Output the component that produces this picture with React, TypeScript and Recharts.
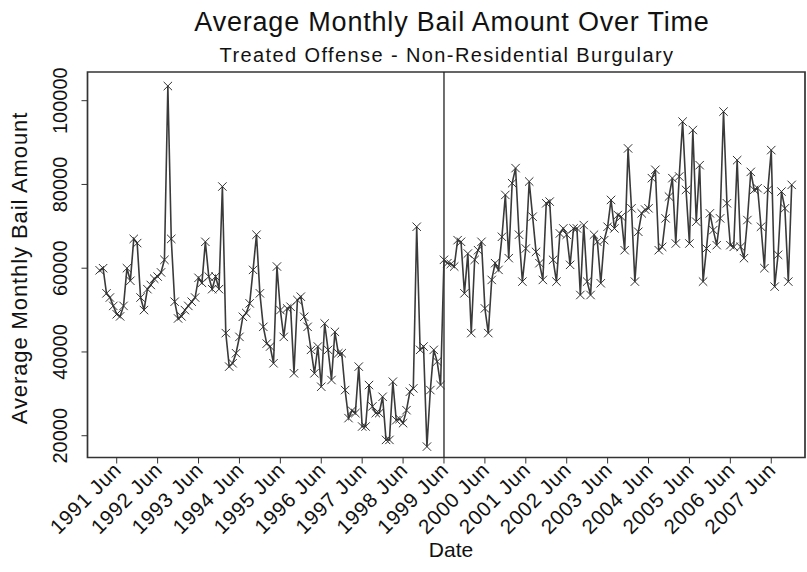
import React from "react";
import { LineChart, Line, XAxis, YAxis, ReferenceLine, ReferenceArea } from "recharts";

document.body.style.margin = "0";

const FONT = "'Liberation Sans', Arial, sans-serif";

// monthly average bail, Jan..Dec of each year (thousands)
const bail1991 = [59.5, 60, 54, 53, 51, 49, 48.5, 51, 60, 57, 67, 66];
const bail1992 = [53, 50, 55, 56, 57.5, 58, 59, 62, 103.5, 67, 52, 48];
const bail1993 = [48.5, 50, 51, 52, 53, 57.7, 56.5, 66.3, 58, 55, 58, 55];
const bail1994 = [79.5, 44.5, 36.5, 37.3, 39.7, 43.6, 48.4, 49.3, 51.6, 59.6, 68, 54];
const bail1995 = [46, 42, 41.3, 37.3, 60.4, 50, 43.6, 50.4, 50.8, 34.9, 52.4, 53.2];
const bail1996 = [48.4, 46, 40.5, 34.9, 41.3, 31.7, 46.8, 40.5, 33.3, 44.8, 39.7, 39.7];
const bail1997 = [30.9, 24.2, 26, 25.4, 36.5, 22.2, 22.2, 32.1, 27, 25.4, 25.4, 29.3];
const bail1998 = [19, 19, 32.9, 23.7, 24, 23, 26.1, 30.5, 31.3, 69.9, 40.5, 41.3];
const bail1999 = [17.4, 30.9, 40.5, 37.7, 32.1, 62, 61.2, 61, 60.4, 66.7, 66.3, 54];
const bail2000 = [63.5, 44.5, 62, 64.3, 66.3, 50.4, 44.5, 57.2, 61.2, 59.6, 67.5, 77.5];
const bail2001 = [62.4, 80.3, 83.9, 68, 56.8, 64.7, 80.7, 72.3, 63.9, 61.2, 57.2, 75.5];
const bail2002 = [75.9, 62, 56.8, 68.3, 69.5, 68, 60.8, 69.5, 69.5, 53.6, 70.3, 56.8];
const bail2003 = [53.6, 68, 66.3, 56.4, 66.7, 69.9, 76.3, 69.5, 72.7, 72.3, 64.3, 88.6];
const bail2004 = [74.3, 56.8, 68.7, 73.1, 74, 74.3, 81.5, 83.5, 64.3, 65.1, 71.9, 77.1];
const bail2005 = [81.5, 65.9, 81.9, 95, 78.7, 65.9, 93, 71.1, 84.6, 56.8, 64.7, 73.1];
const bail2006 = [69.1, 65.5, 71.9, 97.4, 75.5, 65.5, 65.1, 85.8, 65.1, 62.4, 71.5, 83];
const bail2007 = [78.7, 79.1, 69.9, 60, 78.7, 88.2, 55.6, 63.2, 78.3, 74.3, 56.8, 79.9];

const startYear = 1991;
const tickYears = [1991, 1992, 1993, 1994, 1995, 1996, 1997, 1998, 1999, 2000, 2001, 2002, 2003, 2004, 2005, 2006, 2007];
const yTicks = [20000, 40000, 60000, 80000, 100000];
const interventionYear = 1999; // June 1999

const monthly = [
  bail1991, bail1992, bail1993, bail1994, bail1995, bail1996, bail1997, bail1998, bail1999,
  bail2000, bail2001, bail2002, bail2003, bail2004, bail2005, bail2006, bail2007,
].flat();

const data = monthly.map((v, i) => ({ m: i, bail: v * 1000 }));
const juneIndex = (year: number) => (year - startYear) * 12 + 5;
const xTicks = tickYears.map(juneIndex);

function XMark(props: any) {
  const { cx, cy } = props;
  if (cx == null || cy == null) return null;
  const s = 4.2;
  return (
    <g stroke="#333" strokeWidth={1}>
      <line x1={cx - s} y1={cy - s} x2={cx + s} y2={cy + s} />
      <line x1={cx - s} y1={cy + s} x2={cx + s} y2={cy - s} />
    </g>
  );
}

function DateTick(props: any) {
  const { x, payload } = props;
  const year = startYear + Math.round((payload.value - 5) / 12);
  const tx = x + 6;
  const ty = 471;
  return (
    <text x={tx} y={ty} transform={`rotate(-45, ${tx}, ${ty})`} textAnchor="end"
      fontSize={20.5} letterSpacing={0.8} fontFamily={FONT} fill="#111">
      {`${year} Jun`}
    </text>
  );
}

function BailTick(props: any) {
  const { y, payload } = props;
  const tx = 67;
  return (
    <text x={tx} y={y} transform={`rotate(-90, ${tx}, ${y})`} textAnchor="middle"
      fontSize={20} fontFamily={FONT} fill="#111">
      {payload.value}
    </text>
  );
}

const X_DOMAIN: [number, number] = [-3.57, 206.9];
const Y_DOMAIN: [number, number] = [14800, 106850];

export default function App() {
  return (
    <div style={{ position: "relative", width: 807, height: 572, background: "#fff" }}>
      <LineChart width={807} height={572} data={data} margin={{ top: 72, right: 2, bottom: 0, left: 0 }}>
        <XAxis type="number" dataKey="m" domain={X_DOMAIN} ticks={xTicks} interval={0}
          allowDataOverflow axisLine={false} tickLine={{ stroke: "#333" }} tickSize={6}
          height={114.5} tick={<DateTick />} />
        <YAxis type="number" domain={Y_DOMAIN} ticks={yTicks} interval={0}
          allowDataOverflow axisLine={false} tickLine={{ stroke: "#333" }} tickSize={6}
          width={87.5} tick={<BailTick />} />
        <ReferenceArea x1={X_DOMAIN[0]} x2={X_DOMAIN[1]} y1={Y_DOMAIN[0]} y2={Y_DOMAIN[1]}
          fill="none" stroke="#333" strokeWidth={1.7} ifOverflow="visible" />
        <ReferenceLine x={juneIndex(interventionYear)} stroke="#222" strokeWidth={1.3} />
        <Line type="linear" dataKey="bail" stroke="#3a3a3a" strokeWidth={1.6}
          dot={<XMark />} activeDot={false} isAnimationActive={false} />
      </LineChart>
      <svg width={807} height={572} style={{ position: "absolute", left: 0, top: 0, pointerEvents: "none" }}
        fontFamily={FONT} fill="#111">
        <text x={452} y={31} textAnchor="middle" fontSize={27} letterSpacing={0.8}>
          Average Monthly Bail Amount Over Time
        </text>
        <text x={447} y={62} textAnchor="middle" fontSize={20} letterSpacing={1.4}>
          Treated Offense - Non-Residential Burgulary
        </text>
        <text x={27} y={268} transform="rotate(-90, 27, 268)" textAnchor="middle" fontSize={22} letterSpacing={0.9}>
          Average Monthly Bail Amount
        </text>
        <text x={451} y={557} textAnchor="middle" fontSize={21}>
          Date
        </text>
      </svg>
    </div>
  );
}
